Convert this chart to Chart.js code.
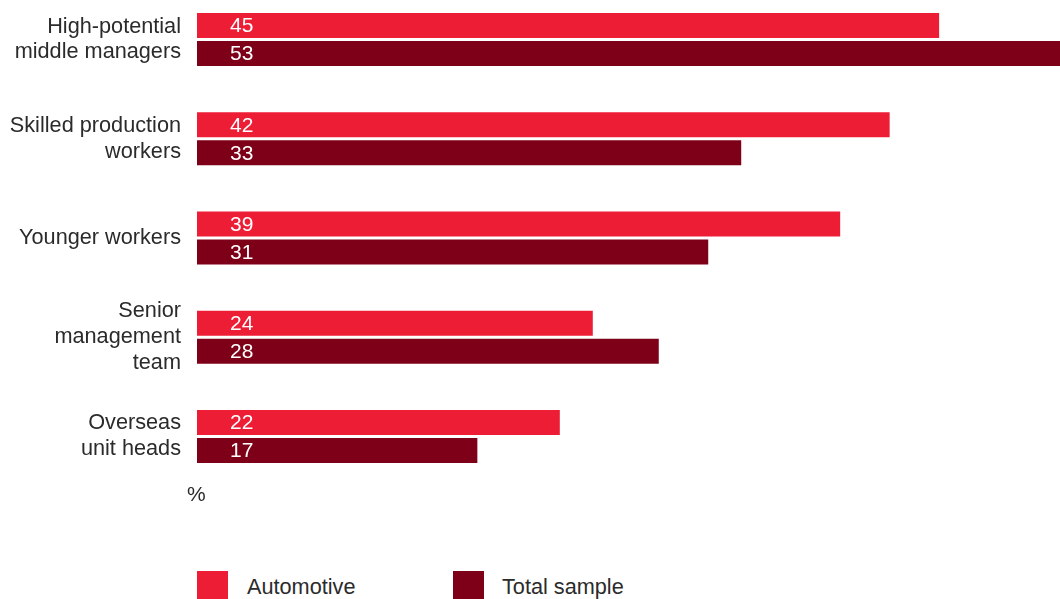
<!DOCTYPE html>
<html>
<head>
<meta charset="utf-8">
<style>
  html, body { margin: 0; padding: 0; background: #fff; }
  body { width: 1060px; height: 599px; position: relative; overflow: hidden;
         font-family: "Liberation Sans", Arial, sans-serif; color: #2b2b2b; }
  #wrap { position: absolute; left: 0; top: -10px; width: 1060px; height: 496px; }
  .unit { position: absolute; left: 187px; top: 482px; font-size: 21px; }
  .key { position: absolute; top: 571px; width: 31px; height: 30px; }
  .key-label { position: absolute; top: 574px; font-size: 21.7px; line-height: 26px; }
</style>
</head>
<body>
<div id="wrap"><canvas id="bars"></canvas></div>
<div class="unit">%</div>
<div class="key" style="left:197px;background:#ee1d36"></div>
<div class="key-label" style="left:247px">Automotive</div>
<div class="key" style="left:453px;background:#7e0018"></div>
<div class="key-label" style="left:502px">Total sample</div>

<script src="https://cdn.jsdelivr.net/npm/chart.js"></script>
<script>
  const categories = [
    ['High-potential', 'middle managers'],
    ['Skilled production', 'workers'],
    ['Younger workers'],
    ['Senior', 'management', 'team'],
    ['Overseas', 'unit heads']
  ];
  const automotive = [45, 42, 39, 24, 22];
  const totalSample = [53, 33, 31, 28, 17];

  // white value text near the start of each bar
  const valueLabels = {
    id: 'valueLabels',
    afterDatasetsDraw(chart) {
      const ctx = chart.ctx;
      ctx.save();
      ctx.fillStyle = '#fff';
      ctx.font = '21px "Liberation Sans", Arial, sans-serif';
      ctx.textAlign = 'left';
      ctx.textBaseline = 'middle';
      chart.data.datasets.forEach((ds, i) => {
        chart.getDatasetMeta(i).data.forEach((bar, j) => {
          ctx.fillText(String(ds.data[j]), bar.base + 33, bar.y + 1);
        });
      });
      ctx.restore();
    }
  };

  const ctx = document.getElementById('bars');

  new Chart(ctx, {
    type: 'bar',
    data: {
      labels: categories,
      datasets: [{
        label: 'Automotive',
        data: automotive,
        backgroundColor: '#ee1d36',
        categoryPercentage: 0.564,
        barPercentage: 0.893
      }, {
        label: 'Total sample',
        data: totalSample,
        backgroundColor: '#7e0018',
        categoryPercentage: 0.564,
        barPercentage: 0.893
      }]
    },
    options: {
      indexAxis: 'y',
      responsive: true,
      maintainAspectRatio: false,
      animation: false,
      layout: { padding: 0 },
      plugins: {
        legend: { display: false },
        tooltip: { enabled: false }
      },
      scales: {
        x: {
          display: false,
          min: 0,
          max: 52.33
        },
        y: {
          grid: { display: false, drawTicks: false },
          border: { display: false },
          ticks: {
            color: '#2b2b2b',
            padding: 16,
            font: { family: '"Liberation Sans", Arial, sans-serif', size: 21.7, lineHeight: 1.19 }
          },
          afterFit(scale) {
            // fixed label column, no extra room above/below the bands
            scale.width = 197;
            scale.paddingTop = 0;
            scale.paddingBottom = 0;
          }
        }
      }
    },
    plugins: [valueLabels]
  });
</script>
</body>
</html>
